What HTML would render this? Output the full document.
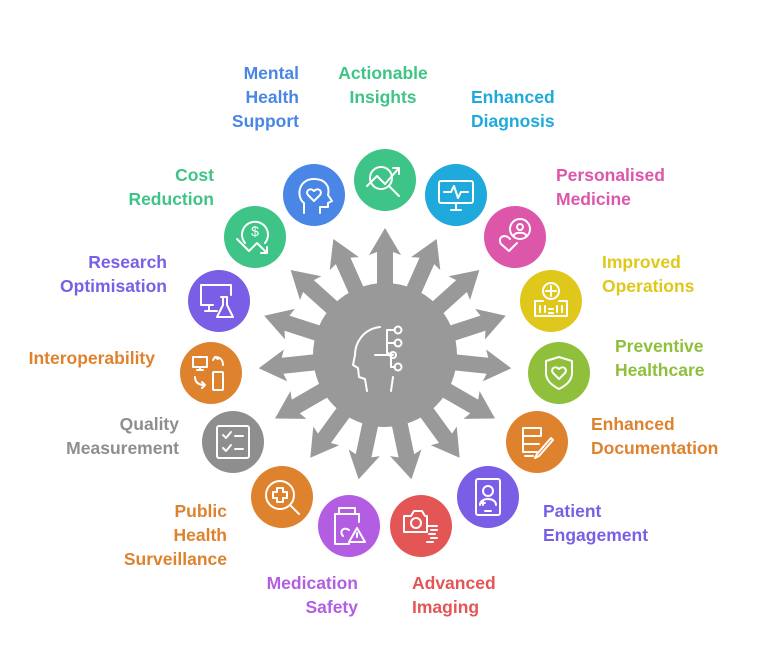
<!DOCTYPE html>
<html><head><meta charset="utf-8"><style>
html,body{margin:0;padding:0;background:#fff;}
svg{display:block;}
text{font-family:"Liberation Sans",sans-serif;font-weight:bold;font-size:17.5px;}
.ic{fill:none;stroke:#fff;stroke-width:2;stroke-linecap:round;stroke-linejoin:round;}
</style></head><body>
<svg width="770" height="656" viewBox="0 0 770 656" xmlns="http://www.w3.org/2000/svg">
<defs><polygon id="ar" points="-8,0 -8,-103 -16,-100 0,-127 16,-100 8,-103 8,0"/></defs>
<g transform="translate(385,355)" fill="#999">
  <use href="#ar" transform="rotate(0)"/>
  <use href="#ar" transform="rotate(24)"/>
  <use href="#ar" transform="rotate(48)"/>
  <use href="#ar" transform="rotate(72)"/>
  <use href="#ar" transform="rotate(96)"/>
  <use href="#ar" transform="rotate(120)"/>
  <use href="#ar" transform="rotate(144)"/>
  <use href="#ar" transform="rotate(168)"/>
  <use href="#ar" transform="rotate(192)"/>
  <use href="#ar" transform="rotate(216)"/>
  <use href="#ar" transform="rotate(240)"/>
  <use href="#ar" transform="rotate(264)"/>
  <use href="#ar" transform="rotate(288)"/>
  <use href="#ar" transform="rotate(312)"/>
  <use href="#ar" transform="rotate(336)"/>
  <circle r="72" fill="#999"/>
  <g class="ic">
    <path d="M-5,-28 C-22,-26 -30,-12 -30,0 L-32,10 L-27,13 L-26,22 L-20,24 L-18,36"/>
    <path d="M8,22 L6,36"/>
    <path d="M-10,0 L8,0 M2,-25 L2,-2 M2,-25 L10,-25 M2,-12 L10,-12 M2,-2 L8,0 M6,0 L6,12 L10,12"/>
    <circle cx="13" cy="-25" r="3.5"/><circle cx="13" cy="-12" r="3.5"/><circle cx="13" cy="12" r="3.5"/>
    <circle cx="8" cy="0" r="3"/>
  </g>
</g>

<g>
<circle cx="385" cy="180" r="31" fill="#3ec486"/>
<circle cx="456" cy="195" r="31" fill="#1faadb"/>
<circle cx="515" cy="237" r="31" fill="#dc56a9"/>
<circle cx="551" cy="301" r="31" fill="#dfc81b"/>
<circle cx="559" cy="373" r="31" fill="#8fbf3b"/>
<circle cx="537" cy="442" r="31" fill="#df822e"/>
<circle cx="488" cy="497" r="31" fill="#7a5fe6"/>
<circle cx="421" cy="526" r="31" fill="#e45656"/>
<circle cx="349" cy="526" r="31" fill="#b35ee2"/>
<circle cx="282" cy="497" r="31" fill="#df822e"/>
<circle cx="233" cy="442" r="31" fill="#8e8e8e"/>
<circle cx="211" cy="373" r="31" fill="#df822e"/>
<circle cx="219" cy="301" r="31" fill="#7a5fe6"/>
<circle cx="255" cy="237" r="31" fill="#3ec486"/>
<circle cx="314" cy="195" r="31" fill="#4a86e6"/>
</g>

<g class="ic">
  <g transform="translate(385,180)"><circle cx="-4" cy="-2" r="11"/><path d="M4,6 L14,16 M-18,6 L-8,-4 L0,4 L14,-12 M8,-12 L14,-12 L14,-6"/></g>
  <g transform="translate(456,195)"><rect x="-17" y="-14" width="34" height="22" rx="2"/><path d="M-12,-3 L-5,-3 L-2,-9 L2,3 L5,-3 L12,-3 M-5,15 L5,15 M0,8 L0,15"/></g>
  <g transform="translate(515,237)"><circle cx="5" cy="-8" r="10"/><circle cx="5" cy="-10" r="3"/><path d="M-1,-2 C1,-5 9,-5 11,-2 M-5,2 C-10,-4 -18,0 -14,7 L-6,14 L2,6"/></g>
  <g transform="translate(551,301)"><circle cx="0" cy="-10" r="8"/><path d="M0,-15 L0,-5 M-5,-10 L5,-10 M-16,0 L-16,15 L16,15 L16,0 L8,0 M-16,0 L-8,0 M-11,5 L-11,11 M-6,5 L-6,11 M6,5 L6,11 M11,5 L11,11 M-2,8 L2,8 M-2,12 L2,12"/></g>
  <g transform="translate(559,373)"><path d="M-13,-12 L0,-16 L13,-12 L13,0 C13,8 6,13 0,16 C-6,13 -13,8 -13,0 Z"/><path d="M0,6 L-6,0 C-9,-4 -4,-8 0,-4 C4,-8 9,-4 6,0 Z"/></g>
  <g transform="translate(537,442)"><path d="M-14,-14 L4,-14 L4,-6 L-14,-6 Z M-14,-6 L-14,2 L2,2 M-14,2 L-14,10 L0,10 M-12,14 L-4,14 M16,-2 L2,14 L-2,16 L0,12 L14,-4 Z"/></g>
  <g transform="translate(488,497)"><rect x="-12" y="-18" width="24" height="36" rx="2"/><circle cx="0" cy="-6" r="5"/><path d="M-8,8 C-8,0 8,0 8,8 M-3,14 L3,14 M-5,4 L-5,8 M-7,6 L-3,6"/></g>
  <g transform="translate(421,526)"><path d="M-17,-10 L-10,-10 L-7,-15 L1,-15 L4,-10 L6,-10 L6,6 L-17,6 Z"/><circle cx="-5" cy="-3" r="5"/><path d="M6,0 L16,0 M10,4 L16,4 M8,8 L14,8 M10,12 L16,12 M6,16 L12,16"/></g>
  <g transform="translate(349,526)"><path d="M-10,-18 L6,-18 L6,-12 L-10,-12 Z M-14,-12 L10,-12 L10,-4 M-14,-12 L-14,18 L0,18"/><path d="M0,4 C-6,0 -10,6 -6,10"/><path d="M8,2 L16,16 L0,16 Z M8,7 L8,11"/></g>
  <g transform="translate(282,497)"><circle cx="-2" cy="-2" r="14"/><path d="M9,9 L17,17 M-5,-9 L1,-9 L1,-5 L5,-5 L5,1 L1,1 L1,5 L-5,5 L-5,1 L-9,1 L-9,-5 L-5,-5 Z"/></g>
  <g transform="translate(233,442)"><rect x="-16" y="-16" width="32" height="32" rx="2"/><path d="M-10,-7 L-7,-4 L-2,-10 M2,-6 L10,-6 M-10,6 L-7,9 L-2,3 M2,7 L10,7"/></g>
  <g transform="translate(211,373)"><rect x="-18" y="-16" width="14" height="10"/><path d="M-14,-3 L-8,-3 M-11,-6 L-11,-3"/><rect x="2" y="-1" width="10" height="18" rx="1"/><path d="M4,-16 C10,-16 12,-12 12,-8 M2,-13 L4,-16 L7,-14 M-16,4 C-16,10 -12,12 -6,12 M-9,9 L-6,12 L-9,15"/></g>
  <g transform="translate(219,301)"><path d="M-6,4 L-18,4 L-18,-16 L12,-16 L12,-6 M-10,4 L-10,10 M-14,10 L-2,10"/><path d="M2,-4 L8,-4 M4,-4 L4,4 L-2,16 L14,16 L8,4 L8,-4"/></g>
  <g transform="translate(255,237)"><path d="M-10,6 A13,13 0 1 1 10,6"/><path d="M-18,2 L-6,14 L2,6 L12,16 M6,16 L12,16 L12,10"/><text x="0" y="-1" text-anchor="middle" style="font-size:14px;fill:#fff;stroke:none;font-weight:normal">$</text></g>
  <g transform="translate(314,195)"><path d="M-10,18 L-10,8 C-18,2 -16,-16 0,-16 C12,-16 16,-8 14,0 L18,6 L14,8 L14,12 L6,12 L6,18"/><path d="M0,6 L-6,0 C-9,-4 -4,-8 0,-4 C4,-8 9,-4 6,0 Z"/></g>
</g>

<g>
<text x="299" y="79" text-anchor="end" fill="#4a86e6">Mental</text>
<text x="299" y="103" text-anchor="end" fill="#4a86e6">Health</text>
<text x="299" y="127" text-anchor="end" fill="#4a86e6">Support</text>
<text x="383" y="79" text-anchor="middle" fill="#3ec486">Actionable</text>
<text x="383" y="103" text-anchor="middle" fill="#3ec486">Insights</text>
<text x="471" y="103" fill="#1faadb">Enhanced</text>
<text x="471" y="127" fill="#1faadb">Diagnosis</text>
<text x="556" y="181" fill="#dc56a9">Personalised</text>
<text x="556" y="205" fill="#dc56a9">Medicine</text>
<text x="602" y="268" fill="#dfc81b">Improved</text>
<text x="602" y="292" fill="#dfc81b">Operations</text>
<text x="615" y="352" fill="#8fbf3b">Preventive</text>
<text x="615" y="376" fill="#8fbf3b">Healthcare</text>
<text x="591" y="430" fill="#df822e">Enhanced</text>
<text x="591" y="454" fill="#df822e">Documentation</text>
<text x="543" y="517" fill="#7a5fe6">Patient</text>
<text x="543" y="541" fill="#7a5fe6">Engagement</text>
<text x="412" y="589" fill="#e45656">Advanced</text>
<text x="412" y="613" fill="#e45656">Imaging</text>
<text x="358" y="589" text-anchor="end" fill="#b35ee2">Medication</text>
<text x="358" y="613" text-anchor="end" fill="#b35ee2">Safety</text>
<text x="227" y="517" text-anchor="end" fill="#df822e">Public</text>
<text x="227" y="541" text-anchor="end" fill="#df822e">Health</text>
<text x="227" y="565" text-anchor="end" fill="#df822e">Surveillance</text>
<text x="179" y="430" text-anchor="end" fill="#8e8e8e">Quality</text>
<text x="179" y="454" text-anchor="end" fill="#8e8e8e">Measurement</text>
<text x="155" y="364" text-anchor="end" fill="#df822e">Interoperability</text>
<text x="167" y="268" text-anchor="end" fill="#7a5fe6">Research</text>
<text x="167" y="292" text-anchor="end" fill="#7a5fe6">Optimisation</text>
<text x="214" y="181" text-anchor="end" fill="#3ec486">Cost</text>
<text x="214" y="205" text-anchor="end" fill="#3ec486">Reduction</text>
</g>
</svg>
</body></html>
